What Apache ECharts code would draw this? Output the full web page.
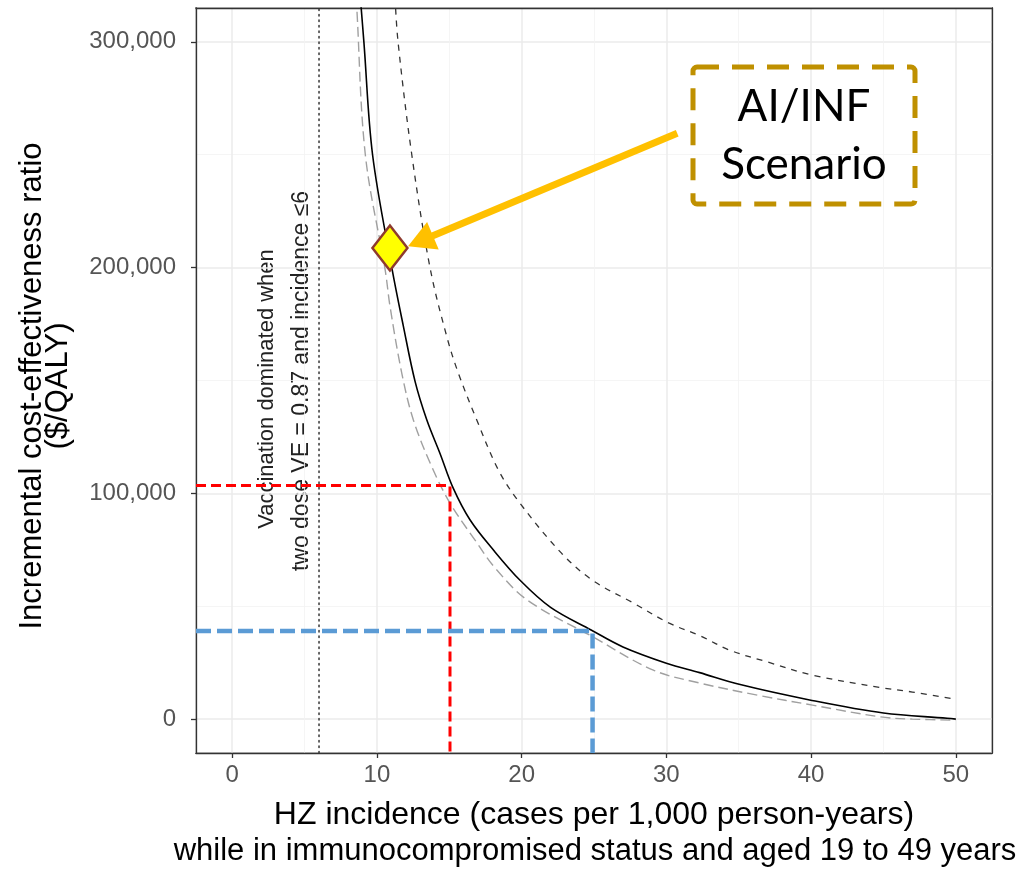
<!DOCTYPE html>
<html>
<head>
<meta charset="utf-8">
<script src="https://cdn.jsdelivr.net/npm/echarts@6/dist/echarts.min.js"></script>
<style>
html,body{margin:0;padding:0;background:#fff;}
#chart{width:1025px;height:869px;}
</style>
</head>
<body>
<div id="chart"></div>
<script>
// ---- Data ----
// Base-case ICER curve (solid black)
const incidenceBase = [8.85, 9.1, 9.7, 11.03, 11.83, 12.64, 13.45, 14.36, 15.28, 16.44, 18.05, 19.89, 22.0, 24.8, 27.0, 30.0, 32.3, 35.1, 39.9, 45.0, 49.4, 50];
const icerBase      = [320000, 300000, 250000, 200000, 174000, 149500, 132500, 117700, 102200, 88200, 74900, 61500, 49500, 39500, 32000, 24800, 20600, 15300, 8500, 2700, 400, 0];
// Upper bound curve (dark short dashes)
const incidenceUpper = [11.25, 11.46, 12.41, 13.67, 14.83, 15.63, 16.9, 18.4, 19.89, 22.77, 24.9, 27.7, 30.2, 32.3, 34.4, 37.0, 40.1, 44.8, 47.0, 50];
const icerUpper      = [320000, 300000, 250000, 200000, 169400, 153200, 132500, 110300, 95600, 73400, 61500, 51500, 42500, 37000, 30500, 25300, 19500, 14000, 12000, 8800];
// Lower bound curve (grey long dashes)
const incidenceLower = [8.55, 8.6, 9.2, 10.57, 10.91, 11.72, 12.52, 13.79, 15.06, 16.78, 18.16, 20.4, 24.9, 29.1, 32.3, 36.3, 40.1, 44.8, 47.0, 50];
const icerLower      = [320000, 316000, 250000, 199000, 182700, 153200, 132500, 111800, 95600, 79300, 67000, 52700, 36500, 21700, 16000, 10600, 6200, 1000, 0, -400];
// Reference markers
const dominatedIncidence = 6;              // dotted vertical line
const thresholdRed  = [15.05, 103500];     // red dashed guide
const thresholdBlue = [24.9, 39000];       // blue dashed guide
const scenarioPoint = [10.9, 208700];      // AI/INF scenario diamond
const arrowFromTo   = [[30.75, 259500], [12.15, 209500]]; // annotation arrow (tail, tip)
// Axis
const xTickLabels = [0, 10, 20, 30, 40, 50];
const yTickLabels = [0, 100000, 200000, 300000];
const X_MIN = -2.5, X_MAX = 52.5, Y_MIN = -15000, Y_MAX = 315000;

const zip = (a, b) => a.map((v, i) => [v, b[i]]);
const FONT = 'Arial, "Liberation Sans", sans-serif';

// main panel layout
const G = {left: 196, right: 33, top: 8, bottom: 116};
const CW = 1025, CH = 869;
const gW = CW - G.left - G.right, gH = CH - G.top - G.bottom;
const xTickFirst = xTickLabels[0], xTickLast = xTickLabels[xTickLabels.length - 1];
const yTickFirst = yTickLabels[0], yTickLast = yTickLabels[yTickLabels.length - 1];
const xPx = v => G.left + (v - X_MIN) / (X_MAX - X_MIN) * gW;
const yPx = v => G.top + (Y_MAX - v) / (Y_MAX - Y_MIN) * gH;

const chart = echarts.init(document.getElementById('chart'), null, {renderer: 'canvas'});

const hiddenAxis = {type: 'value', show: false};
const tickOnly = {
  axisLine: {show: false}, axisLabel: {show: false}, splitLine: {show: false},
  axisTick: {show: true, length: 5, inside: false, lineStyle: {color: '#333', width: 1.3}}
};
const borderLine = {show: true, onZero: false, lineStyle: {color: '#333', width: 1.3}};

const option = {
  animation: false,
  backgroundColor: '#fff',
  grid: [
    {left: G.left, right: G.right, top: G.top, bottom: G.bottom, show: true,
     borderColor: '#333', borderWidth: 1.3, backgroundColor: 'rgba(0,0,0,0)', containLabel: false},
    // tick-only overlay for x ticks (spans 0..50)
    {left: xPx(xTickFirst), right: CW - xPx(xTickLast), top: G.top, bottom: G.bottom, show: false},
    // tick-only overlay for y ticks (spans 0..300,000)
    {left: G.left, right: G.right, top: yPx(yTickLast), bottom: CH - yPx(yTickFirst), show: false}
  ],
  xAxis: [
    {
      gridIndex: 0, type: 'value', min: X_MIN, max: X_MAX, splitNumber: 5, position: 'bottom',
      axisLine: borderLine,
      axisTick: {show: false},
      axisLabel: {show: true, margin: 10, fontSize: 24, fontFamily: FONT, color: '#555',
        customValues: xTickLabels, formatter: v => String(v)},
      splitLine: {show: true, lineStyle: {color: '#ebebeb', width: 1.5}},
      minorTick: {show: false, splitNumber: 2},
      minorSplitLine: {show: true, lineStyle: {color: '#f3f3f3', width: 0.8}}
    },
    Object.assign({gridIndex: 1, type: 'value', min: xTickFirst, max: xTickLast, interval: 10, position: 'bottom'}, tickOnly),
    Object.assign({gridIndex: 2}, hiddenAxis),
    // top border line
    {gridIndex: 0, type: 'value', min: X_MIN, max: X_MAX, position: 'top', axisLine: borderLine,
     axisTick: {show: false}, axisLabel: {show: false}, splitLine: {show: false}}
  ],
  yAxis: [
    {
      gridIndex: 0, type: 'value', min: Y_MIN, max: Y_MAX, splitNumber: 3, position: 'left',
      axisLine: borderLine,
      axisTick: {show: false},
      axisLabel: {show: true, margin: 20, fontSize: 24, fontFamily: FONT, color: '#555',
        customValues: yTickLabels, formatter: v => v.toLocaleString('en-US')},
      splitLine: {show: true, lineStyle: {color: '#ebebeb', width: 1.5}},
      minorTick: {show: false, splitNumber: 2},
      minorSplitLine: {show: true, lineStyle: {color: '#f3f3f3', width: 0.8}}
    },
    Object.assign({gridIndex: 1}, hiddenAxis),
    Object.assign({gridIndex: 2, type: 'value', min: yTickFirst, max: yTickLast, interval: 100000, position: 'left'}, tickOnly),
    // right border line
    {gridIndex: 0, type: 'value', min: Y_MIN, max: Y_MAX, position: 'right', axisLine: borderLine,
     axisTick: {show: false}, axisLabel: {show: false}, splitLine: {show: false}}
  ],
  series: [
    {type: 'line', name: 'dominated', data: [[dominatedIncidence, Y_MIN], [dominatedIncidence, Y_MAX]],
     showSymbol: false, silent: true,
     lineStyle: {color: '#333', width: 1.5, type: [1.5, 4], cap: 'round'}},
    {type: 'line', name: 'lower', data: zip(incidenceLower, icerLower), showSymbol: false, smooth: 0.35,
     lineStyle: {color: '#a0a0a0', width: 1.4, type: [10, 5]}},
    {type: 'line', name: 'upper', data: zip(incidenceUpper, icerUpper), showSymbol: false, smooth: 0.35,
     lineStyle: {color: '#333', width: 1.3, type: [6, 6]}},
    {type: 'line', name: 'base', data: zip(incidenceBase, icerBase), showSymbol: false, smooth: 0.35,
     lineStyle: {color: '#000', width: 1.6}},
    {type: 'line', name: 'red', data: [[X_MIN, thresholdRed[1]], thresholdRed, [thresholdRed[0], Y_MIN]],
     showSymbol: false, lineStyle: {color: '#ff0000', width: 3, type: [10, 5]}},
    {type: 'line', name: 'blue', data: [[X_MIN, thresholdBlue[1]], thresholdBlue, [thresholdBlue[0], Y_MIN]],
     showSymbol: false, lineStyle: {color: '#5b9bd5', width: 4.5, type: [15, 6]}},
    {type: 'scatter', name: 'scenario', data: [scenarioPoint], symbol: 'diamond', symbolSize: [35, 45],
     itemStyle: {color: '#ffff00', borderColor: '#8e3b2e', borderWidth: 2.5, opacity: 1}, z: 5}
  ],
  graphic: [
    // y-axis title
    {type: 'text', x: 32, y: 386, rotation: Math.PI / 2,
     style: {text: 'Incremental cost-effectiveness ratio', font: '31px ' + FONT, fill: '#000', align: 'center', verticalAlign: 'middle'}},
    {type: 'text', x: 58, y: 386, rotation: Math.PI / 2,
     style: {text: '($/QALY)', font: '31px ' + FONT, fill: '#000', align: 'center', verticalAlign: 'middle'}},
    // x-axis title
    {type: 'text', x: 594, y: 815,
     style: {text: 'HZ incidence (cases per 1,000 person-years)', font: '32px ' + FONT, fill: '#000', align: 'center', verticalAlign: 'middle'}},
    {type: 'text', x: 595, y: 851,
     style: {text: 'while in immunocompromised status and aged 19 to 49 years', font: '31px ' + FONT, fill: '#000', align: 'center', verticalAlign: 'middle'}},
    // dominated annotation
    {type: 'text', x: 267, y: 389, rotation: Math.PI / 2,
     style: {text: 'Vaccination dominated when', font: '22px ' + FONT, fill: '#222', align: 'center', verticalAlign: 'middle'}},
    {type: 'text', x: 302, y: 381, rotation: Math.PI / 2,
     style: {text: 'two dose VE = 0.87 and incidence \u22646', font: '23px ' + FONT, fill: '#222', align: 'center', verticalAlign: 'middle'}},
    // scenario box
    {type: 'rect', shape: {x: 693, y: 67, width: 222, height: 137, r: 4}, z: 10,
     style: {fill: 'rgba(255,255,255,0)', stroke: '#bf9000', lineWidth: 5, lineDash: [22, 13]}},
    {type: 'text', x: 804, y: 107, z: 10,
     style: {text: 'AI/INF', font: '44px Lato, "Open Sans", sans-serif', fill: '#000', align: 'center', verticalAlign: 'middle'}},
    {type: 'text', x: 804, y: 165, z: 10,
     style: {text: 'Scenario', font: '44px Lato, "Open Sans", sans-serif', fill: '#000', align: 'center', verticalAlign: 'middle'}}
  ]
};
chart.setOption(option);

// Annotation arrow built from data coordinates
const tail = chart.convertToPixel({gridIndex: 0}, arrowFromTo[0]);
const tip = chart.convertToPixel({gridIndex: 0}, arrowFromTo[1]);
const dx = tip[0] - tail[0], dy = tip[1] - tail[1];
const len = Math.sqrt(dx * dx + dy * dy);
const ux = dx / len, uy = dy / len;
const headLen = 27, headHalf = 15;
const base = [tip[0] - ux * headLen, tip[1] - uy * headLen];
const px = -uy, py = ux;
chart.setOption({
  graphic: option.graphic.concat([
    {type: 'line', z: 20, shape: {x1: tail[0], y1: tail[1], x2: base[0] + ux * 2, y2: base[1] + uy * 2},
     style: {stroke: '#ffc000', lineWidth: 7, lineCap: 'butt'}},
    {type: 'polygon', z: 20, shape: {points: [tip, [base[0] + px * headHalf, base[1] + py * headHalf], [base[0] - px * headHalf, base[1] - py * headHalf]]},
     style: {fill: '#ffc000'}}
  ])
});
</script>
</body>
</html>
